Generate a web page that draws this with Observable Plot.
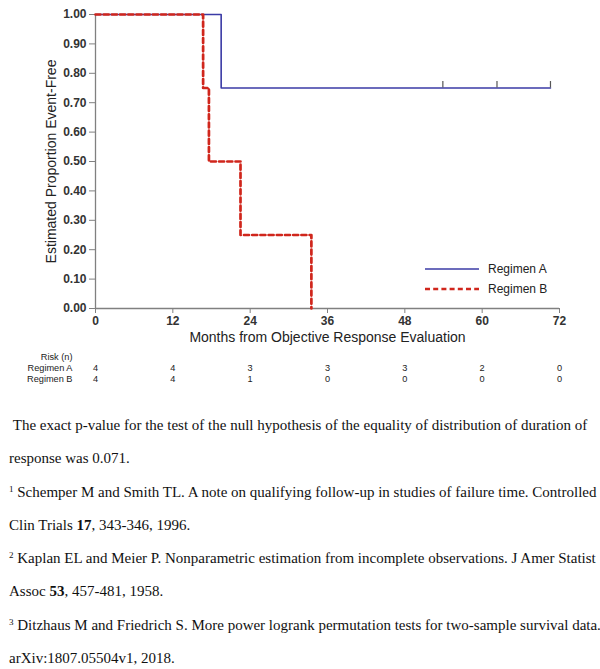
<!DOCTYPE html>
<html>
<head>
<meta charset="utf-8">
<script src="https://cdn.jsdelivr.net/npm/d3@7"></script>
<script src="https://cdn.jsdelivr.net/npm/@observablehq/plot@0.6"></script>
<style>
  html, body { margin: 0; padding: 0; background: #fff; }
  #wrap { position: relative; width: 600px; height: 669px; overflow: hidden; }
  #main svg, #risk svg { display: block; }
  #main g[aria-label="x-axis label"], #main g[aria-label="y-axis label"] { font-size: 14px; font-weight: normal; fill: #222; }
  #main g[aria-label="x-axis tick label"], #main g[aria-label="y-axis tick label"] { font-size: 12px; font-weight: bold; fill: #333; }
  #legend { position: absolute; left: 0; top: 0; width: 600px; height: 345px; pointer-events: none; }
  #notes { font-family: "Liberation Serif", "Times New Roman", serif; font-size: 15px; color: #111; line-height: 33.3px; padding-left: 9px; margin-top: 19px; white-space: nowrap; }
  #notes sup { font-size: 9px; vertical-align: 5px; line-height: 0; }
</style>
</head>
<body>
<div id="wrap">
  <div id="main"></div>
  <svg id="legend"></svg>
  <div id="risk"></div>
  <div id="notes">
    <div>&nbsp;The exact p-value for the test of the null hypothesis of the equality of distribution of duration of</div>
    <div>response was 0.071.</div>
    <div><sup>1</sup> Schemper M and Smith TL. A note on qualifying follow-up in studies of failure time. Controlled</div>
    <div>Clin Trials <b>17</b>, 343-346, 1996.</div>
    <div><sup>2</sup> Kaplan EL and Meier P. Nonparametric estimation from incomplete observations. J Amer Statist</div>
    <div>Assoc <b>53</b>, 457-481, 1958.</div>
    <div><sup>3</sup> Ditzhaus M and Friedrich S. More power logrank permutation tests for two-sample survival data.</div>
    <div>arXiv:1807.05504v1, 2018.</div>
  </div>
</div>
<script>
// ---- Data ----
const seriesNames = ["Regimen A", "Regimen B"];
const timesA = [0, 19.5, 70.6];
const survA  = [1.00, 0.75, 0.75];
const timesB = [0, 16.7, 17.6, 22.5, 33.5];
const survB  = [1.00, 0.75, 0.50, 0.25, 0.00];
const censorTimesA = [53.9, 62.3, 70.6];
const censorSurvA  = [0.75, 0.75, 0.75];
const xTicks = [0, 12, 24, 36, 48, 60, 72];
const yTicks = [0, 0.1, 0.2, 0.3, 0.4, 0.5, 0.6, 0.7, 0.8, 0.9, 1.0];
const riskRows = ["Risk (n)", "Regimen A", "Regimen B"];
const riskTimes = [0, 12, 24, 36, 48, 60, 72];
const riskA = [4, 4, 3, 3, 3, 2, 0];
const riskB = [4, 4, 1, 0, 0, 0, 0];

const colorA = "#3b3ba6";
const colorB = "#d0261c";
const axisGray = "#808080";
const dashB = "5,3.2";

const curveA = timesA.map((t, i) => ({t, s: survA[i]}));
const curveB = timesB.map((t, i) => ({t, s: survB[i]}));
const censA = censorTimesA.map((t, i) => ({t, s: censorSurvA[i]}));

const W = 600, mL = 95, mR = 41;

const main = Plot.plot({
  width: W, height: 345,
  marginLeft: mL, marginRight: mR, marginTop: 14, marginBottom: 37,
  style: {fontFamily: "'Liberation Sans', Arial, sans-serif", fontSize: "12px", background: "transparent", overflow: "visible"},
  x: {domain: [0, 72]},
  y: {domain: [0, 1]},
  marks: [
    Plot.axisX({ticks: xTicks, tickSize: 5, tickPadding: 3, stroke: axisGray, label: "Months from Objective Response Evaluation", labelAnchor: "center", labelOffset: 33, labelArrow: "none"}),
    Plot.axisY({ticks: yTicks, tickSize: 6, tickPadding: 3, tickFormat: d3.format(".2f"), stroke: axisGray, label: "Estimated Proportion Event-Free", labelAnchor: "center", labelOffset: 49, labelArrow: "none"}),
    Plot.ruleX([0], {y1: 0, y2: 1, stroke: axisGray, strokeWidth: 1.3}),
    Plot.ruleY([0], {x1: 0, x2: 72, stroke: axisGray, strokeWidth: 1.3}),
    Plot.line(curveA, {x: "t", y: "s", curve: "step-after", stroke: colorA, strokeWidth: 1.6}),
    Plot.ruleX(censA, {x: "t", y1: "s", y2: d => d.s + 0.022, stroke: "#555", strokeWidth: 1.2}),
    Plot.line(curveB, {x: "t", y: "s", curve: "step-after", stroke: colorB, strokeWidth: 2.7, strokeDasharray: dashB})
  ]
});
document.getElementById("main").appendChild(main);

// Legend
const lg = d3.select("#legend");
const legendItems = [
  {name: seriesNames[0], color: colorA, width: 1.6, dash: null, y: 269},
  {name: seriesNames[1], color: colorB, width: 2.7, dash: dashB, y: 289}
];
legendItems.forEach(it => {
  lg.append("line").attr("x1", 425).attr("x2", 479).attr("y1", it.y).attr("y2", it.y)
    .attr("stroke", it.color).attr("stroke-width", it.width).attr("stroke-dasharray", it.dash);
  lg.append("text").attr("x", 488).attr("y", it.y).attr("dy", "0.35em")
    .attr("font-family", "'Liberation Sans', Arial, sans-serif").attr("font-size", 12).attr("fill", "#222").text(it.name);
});

// Risk table
const riskData = [];
riskTimes.forEach((t, i) => {
  riskData.push({t, row: "Regimen A", n: riskA[i]});
  riskData.push({t, row: "Regimen B", n: riskB[i]});
});
const risk = Plot.plot({
  width: W, height: 45,
  marginLeft: mL, marginRight: mR, marginTop: 12, marginBottom: 11,
  style: {fontFamily: "'Liberation Sans', Arial, sans-serif", fontSize: "9.2px", background: "transparent", color: "#222"},
  x: {domain: [0, 72], axis: null},
  y: {type: "point", domain: riskRows, padding: 0, label: null, tickSize: 0, tickPadding: 23},
  marks: [
    Plot.text(riskData, {x: "t", y: "row", text: "n", fill: "#222"})
  ]
});
document.getElementById("risk").appendChild(risk);
</script>
</body>
</html>
